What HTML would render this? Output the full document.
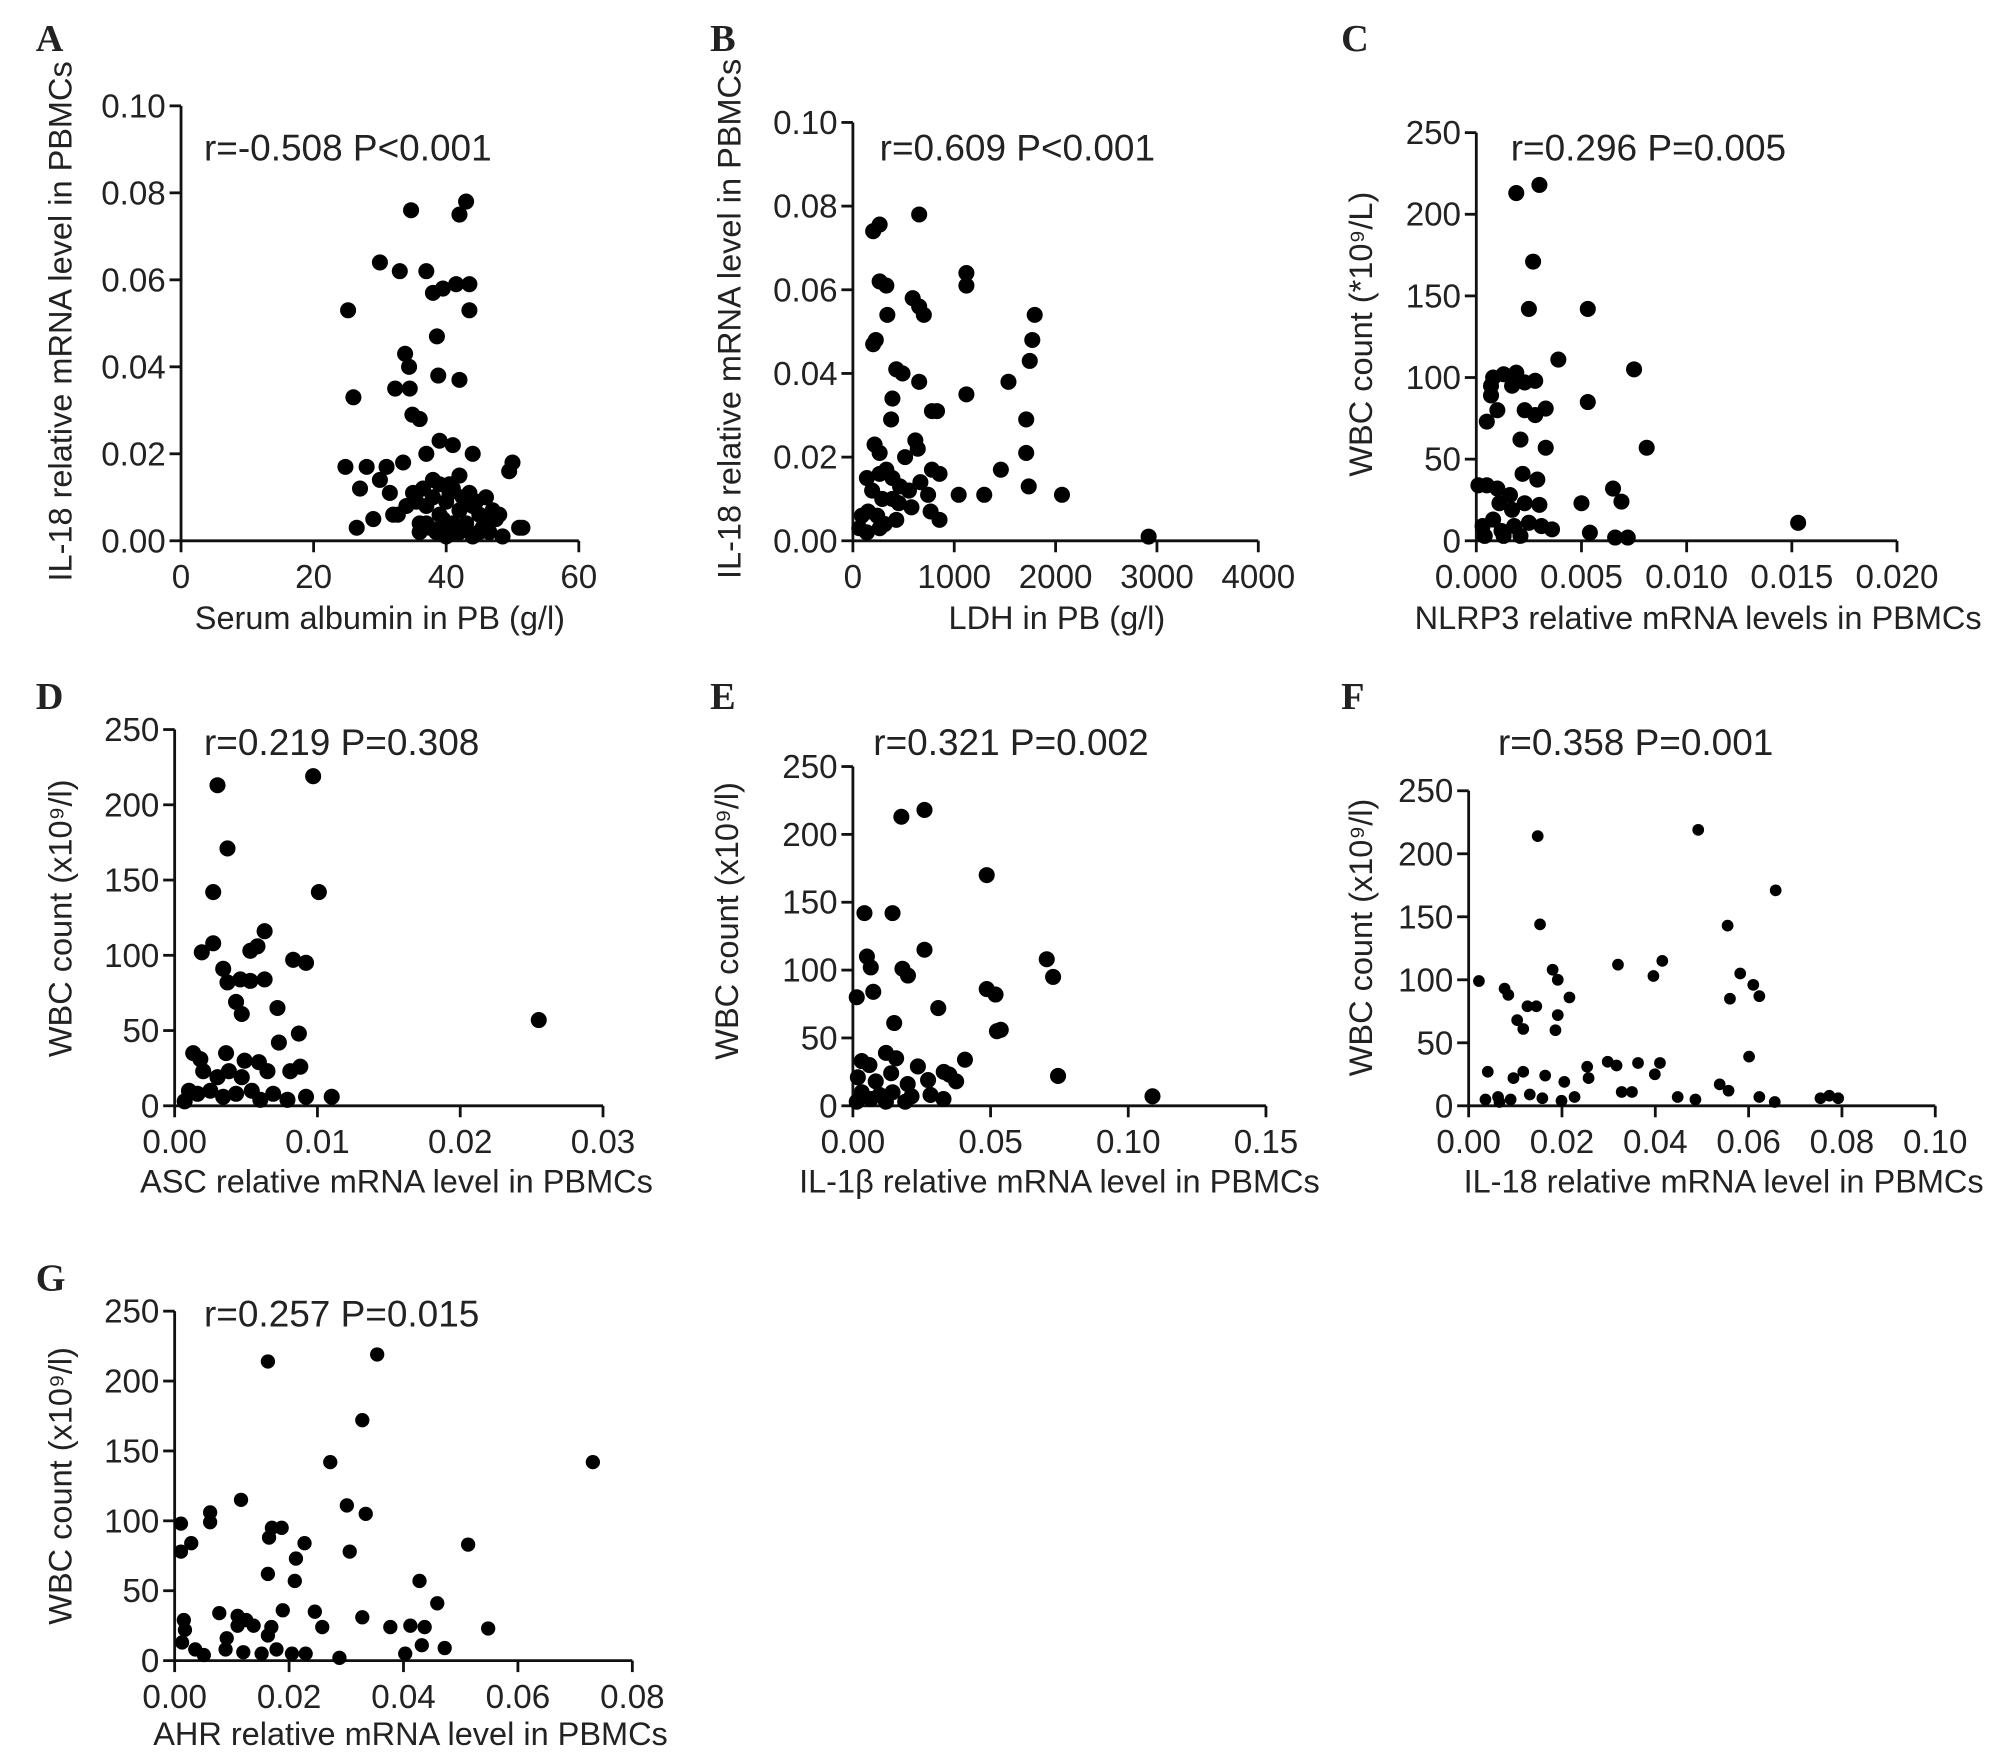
<!DOCTYPE html>
<html><head><meta charset="utf-8"><style>
html,body{margin:0;padding:0;background:#fff}
svg{display:block}
text{font-family:"Liberation Sans",sans-serif;fill:#222}
.lt{font-family:"Liberation Serif",serif;font-weight:bold;font-size:30px}
</style></head><body>
<svg id="fig" width="1999" height="1755" viewBox="0 0 1568 1376" preserveAspectRatio="none" xmlns="http://www.w3.org/2000/svg"></svg>
<script>
// Panel A: serum albumin vs IL-18
const dataAx=[25.2,26,30,33,34.7,37,42,43,38.6,38.8,42,39.5,41.5,43.5,43.5,38,33.8,34.4,32.3,34.5,34.9,36,24.8,28,31,33.5,37,39,41,44,49.5,27,30,31.5,38,40.5,42,26.5,29,32,34,35.5,37,39,40,41,42,44,45,46.3,47.5,51,51.5,39.6,41.5,43,45,36,32.7,35,36.5,38,39,40.5,41,42.5,43.5,44.5,46,47,48,37,38.5,40,42,44,45.5,36,37.5,39.5,43,46.5,48.5,50];
const dataAy=[0.053,0.033,0.064,0.062,0.076,0.062,0.075,0.078,0.047,0.038,0.037,0.058,0.059,0.059,0.053,0.057,0.043,0.040,0.035,0.035,0.029,0.028,0.017,0.017,0.017,0.018,0.020,0.023,0.022,0.020,0.016,0.012,0.014,0.011,0.014,0.013,0.015,0.003,0.005,0.006,0.008,0.009,0.008,0.006,0.009,0.004,0.007,0.008,0.006,0.004,0.005,0.003,0.003,0.003,0.002,0.004,0.002,0.004,0.006,0.011,0.012,0.010,0.013,0.011,0.012,0.010,0.011,0.009,0.010,0.007,0.006,0.004,0.002,0.001,0.002,0.001,0.003,0.002,0.003,0.005,0.004,0.002,0.001,0.018,0.017,0.016];
// Panel B: LDH vs IL-18
const dataBx=[264,200,654,1120,1120,1794,1770,1745,1535,1710,1710,1735,2063,2918,1460,1296,1120,1044,264,330,340,226,200,428,490,590,654,700,654,390,377,780,830,616,640,214,264,515,264,330,390,465,780,855,138,190,290,390,553,666,742,88,150,240,314,428,578,767,855,63,138,264,453];
const dataBy=[0.0756,0.074,0.078,0.064,0.061,0.054,0.048,0.043,0.038,0.029,0.021,0.013,0.011,0.001,0.017,0.011,0.035,0.011,0.062,0.061,0.054,0.048,0.047,0.041,0.040,0.058,0.056,0.054,0.038,0.034,0.029,0.031,0.031,0.024,0.022,0.023,0.021,0.020,0.016,0.017,0.015,0.013,0.017,0.016,0.015,0.012,0.010,0.010,0.012,0.014,0.011,0.006,0.007,0.006,0.004,0.005,0.008,0.007,0.005,0.003,0.002,0.003,0.009];
// Panel C: NLRP3 vs WBC
const dataCx=[0.0019,0.003,0.0027,0.0025,0.0053,0.0039,0.0005,0.0007,0.0007,0.0008,0.001,0.0013,0.0017,0.0019,0.0023,0.0028,0.0033,0.0023,0.0028,0.0053,0.0075,0.0081,0.0033,0.0021,0.0029,0.0001,0.0005,0.001,0.0022,0.0016,0.0011,0.0008,0.0003,0.0012,0.0018,0.0025,0.0031,0.0036,0.0017,0.0023,0.003,0.005,0.0054,0.0065,0.0069,0.0066,0.0072,0.0153,0.0004,0.0013,0.0021];
const dataCy=[213,218,171,142,142,111,73,95,89,100,80,102,95,103,97,98,81,80,77,85,105,57,57,62,37.5,34,34,32,41,28,23,13,9,6,9,11,9,7,19,23,22,23,5,32,24,2,2,11,3,3,3];
// Panel D: ASC vs WBC
const dataDx=[0.0030,0.0097,0.0037,0.0027,0.0101,0.0063,0.0058,0.0053,0.0019,0.0027,0.0083,0.0092,0.0034,0.0037,0.0046,0.0053,0.0063,0.0043,0.0047,0.0072,0.0255,0.0013,0.0018,0.0036,0.0049,0.0059,0.0073,0.0087,0.002,0.003,0.0038,0.0047,0.0065,0.0081,0.0088,0.001,0.0016,0.0025,0.0034,0.0043,0.0054,0.006,0.0069,0.0079,0.0092,0.011,0.0007];
const dataDy=[213,219,171,142,142,116,106,103,102,108,97,95,91,82,84,83,84,69,61,65,57,35,31,35,30,29,42,48,23,19,23,19,23,23,26,10,8,10,6,8,10,4,8,4,6,6,3];
// Panel E: IL-1b vs WBC
const dataEx=[0.0176,0.026,0.0486,0.0042,0.0144,0.026,0.018,0.02,0.0051,0.0065,0.0014,0.0074,0.0486,0.0518,0.0704,0.0727,0.031,0.015,0.0523,0.0537,0.0745,0.1088,0.0407,0.033,0.0032,0.006,0.012,0.0157,0.0236,0.035,0.0018,0.0083,0.0139,0.0199,0.0273,0.0375,0.0032,0.0097,0.0144,0.0213,0.0282,0.0329,0.0014,0.0065,0.012,0.019];
const dataEy=[213,218,170,142,142,115,101,96,110,102,80,84,86,82,108,95,72,61,55,56,22,7,34,25,33,30,39,35,29,23,21,18,24,16,19,18,10,8,10,7,8,5,3,5,3,3];
// Panel F: IL-18 vs WBC
const dataFx=[0.0148,0.0492,0.0658,0.0153,0.0555,0.032,0.0415,0.0396,0.018,0.0191,0.0582,0.061,0.0623,0.0216,0.0022,0.0077,0.0085,0.0126,0.0145,0.0104,0.0117,0.0191,0.0186,0.056,0.0601,0.0041,0.0096,0.0117,0.0164,0.0205,0.0254,0.0298,0.0317,0.0363,0.041,0.0399,0.0257,0.0538,0.0557,0.0328,0.035,0.0036,0.0063,0.009,0.0131,0.0158,0.0199,0.0227,0.0448,0.0486,0.0623,0.0656,0.0754,0.0773,0.0792,0.0066];
const dataFy=[214,219,171,144,143,112,115,103,108,100,105,96,87,86,99,93,88,79,79,68,61,72,60,85,39,27,22,27,24,19,31,35,32,34,34,25,22,17,12,11,11,5,7,5,9,6,4,7,7,5,7,3,6,8,6,3];
// Panel G: AHR vs WBC
const dataGx=[0.0163,0.0354,0.0328,0.0731,0.0272,0.0116,0.0301,0.0334,0.0011,0.0062,0.0062,0.0029,0.0011,0.017,0.0187,0.0165,0.0227,0.0212,0.0306,0.0513,0.0163,0.0428,0.021,0.0459,0.0078,0.011,0.0189,0.0245,0.0328,0.0125,0.0016,0.0018,0.011,0.0138,0.0169,0.0258,0.0377,0.0412,0.0437,0.0548,0.0013,0.0036,0.0051,0.0089,0.012,0.0152,0.0178,0.0205,0.0229,0.0288,0.0432,0.0472,0.0403,0.0091,0.0163];
const dataGy=[214,219,172,142,142,115,111,105,98,106,99,84,78,95,95,88,84,73,78,83,62,57,57,41,34,32,36,35,31,29,29,22,25,25,24,24,24,25,24,23,13,8,4,8,6,5,8,5,5,2,11,9,5,16,18];

const ticksA=[0,20,40,60], ticksAy=["0.00","0.02","0.04","0.06","0.08","0.10"];
const ticksB=[0,1000,2000,3000,4000];
const ticksC=["0.000","0.005","0.010","0.015","0.020"];
const ticksWBC=[0,50,100,150,200,250];
const ticksD=["0.00","0.01","0.02","0.03"];
const ticksE=["0.00","0.05","0.10","0.15"];
const ticksF=["0.00","0.02","0.04","0.06","0.08","0.10"];
const ticksG=["0.00","0.02","0.04","0.06","0.08"];

const panels=[
 {id:'a',L:'A',lx:28,ly:40,x0:142,x1:454,y0:424,y1:83,xmax:60,ymax:0.1,xt:ticksA,yt:ticksAy,xs:dataAx,ys:dataAy,r:6.3,ann:'r=-0.508 P<0.001',ax:160,ay:126,xl:'Serum albumin in PB (g/l)',xlx:298,xly:493,yl:'IL-18 relative mRNA level in PBMCs',ylx:56,yly:252},
 {id:'b',L:'B',lx:557,ly:40,x0:669,x1:987,y0:424,y1:96,xmax:4000,ymax:0.1,xt:ticksB,yt:ticksAy,xs:dataBx,ys:dataBy,r:6.3,ann:'r=0.609 P<0.001',ax:690,ay:126,xl:'LDH in PB (g/l)',xlx:829,xly:493,yl:'IL-18 relative mRNA level in PBMCs',ylx:581,yly:250},
 {id:'c',L:'C',lx:1052,ly:40,x0:1158,x1:1488,y0:424,y1:104,xmax:0.02,ymax:250,xt:ticksC,yt:ticksWBC,xs:dataCx,ys:dataCy,r:6.3,ann:'r=0.296 P=0.005',ax:1185,ay:126,xl:'NLRP3 relative mRNA levels in PBMCs',xlx:1332,xly:493,yl:'WBC count (*10⁹/L)',ylx:1076,yly:262},
 {id:'d',L:'D',lx:28,ly:556,x0:137,x1:473,y0:867,y1:572,xmax:0.03,ymax:250,xt:ticksD,yt:ticksWBC,xs:dataDx,ys:dataDy,r:6.3,ann:'r=0.219 P=0.308',ax:160,ay:592,xl:'ASC relative mRNA level in PBMCs',xlx:311,xly:935,yl:'WBC count (x10⁹/l)',ylx:56,yly:720},
 {id:'e',L:'E',lx:557,ly:556,x0:669,x1:993,y0:867,y1:601,xmax:0.15,ymax:250,xt:ticksE,yt:ticksWBC,xs:dataEx,ys:dataEy,r:6.3,ann:'r=0.321 P=0.002',ax:685,ay:592,xl:'IL-1β relative mRNA level in PBMCs',xlx:831,xly:935,yl:'WBC count (x10⁹/l)',ylx:579,yly:722},
 {id:'f',L:'F',lx:1052,ly:556,x0:1152,x1:1518,y0:867,y1:620,xmax:0.1,ymax:250,xt:ticksF,yt:ticksWBC,xs:dataFx,ys:dataFy,r:4.6,ann:'r=0.358 P=0.001',ax:1175,ay:592,xl:'IL-18 relative mRNA level in PBMCs',xlx:1352,xly:935,yl:'WBC count (x10⁹/l)',ylx:1076,yly:735},
 {id:'g',L:'G',lx:28,ly:1012,x0:137,x1:496,y0:1302,y1:1028,xmax:0.08,ymax:250,xt:ticksG,yt:ticksWBC,xs:dataGx,ys:dataGy,r:5.6,ann:'r=0.257 P=0.015',ax:160,ay:1040,xl:'AHR relative mRNA level in PBMCs',xlx:322,xly:1368,yl:'WBC count (x10⁹/l)',ylx:56,yly:1165}
];
const NS='http://www.w3.org/2000/svg';
const svg=document.getElementById('fig');
function mk(tag,attrs,parent,txt){const e=document.createElementNS(NS,tag);for(const k in attrs)e.setAttribute(k,attrs[k]);if(txt!=null)e.textContent=txt;parent.appendChild(e);return e;}
panels.forEach(p=>{
 const g=mk('g',{},svg);
 
 
 const sx=v=>p.x0+(v/p.xmax)*(p.x1-p.x0);
 const sy=v=>p.y0-(v/p.ymax)*(p.y0-p.y1);
 const lt=mk('text',{x:p.lx,y:p.ly,class:'lt'},g,p.L);
 
 
 const ax=mk('path',{d:`M${p.x0} ${p.y1}V${p.y0}H${p.x1}`,stroke:'#111','stroke-width':2.2,fill:'none'},g);
 
 
 const nx=p.xt.length;
 p.xt.forEach((t,i)=>{
  const v=p.xmax*i/(nx-1), x=sx(v);
  mk('line',{x1:x,y1:p.y0,x2:x,y2:p.y0+9,stroke:'#111','stroke-width':2.2},g);
  const tt=mk('text',{x:x,y:p.y0+37,'text-anchor':'middle','font-size':26},g,String(t));
  
  
 });
 const ny=p.yt.length;
 p.yt.forEach((t,i)=>{
  const v=p.ymax*i/(ny-1), y=sy(v);
  mk('line',{x1:p.x0-9,y1:y,x2:p.x0,y2:y,stroke:'#111','stroke-width':2.2},g);
  const tt=mk('text',{x:p.x0-12,y:y+9,'text-anchor':'end','font-size':26},g,String(t));
  
  
 });
 p.xs.forEach((xv,i)=>{
  const c=mk('circle',{cx:sx(xv),cy:sy(p.ys[i]),r:p.r,fill:'#000'},g);
  
  
 });
 const an=mk('text',{x:p.ax,y:p.ay,'font-size':29},g,p.ann);
 
 
 const xl=mk('text',{x:p.xlx,y:p.xly,'text-anchor':'middle','font-size':25.5},g,p.xl);
 
 
 const yl=mk('text',{x:p.ylx,y:p.yly,'text-anchor':'middle','font-size':25.5,transform:`rotate(-90 ${p.ylx} ${p.yly})`},g,p.yl);
 
 
});
</script>
</body></html>
